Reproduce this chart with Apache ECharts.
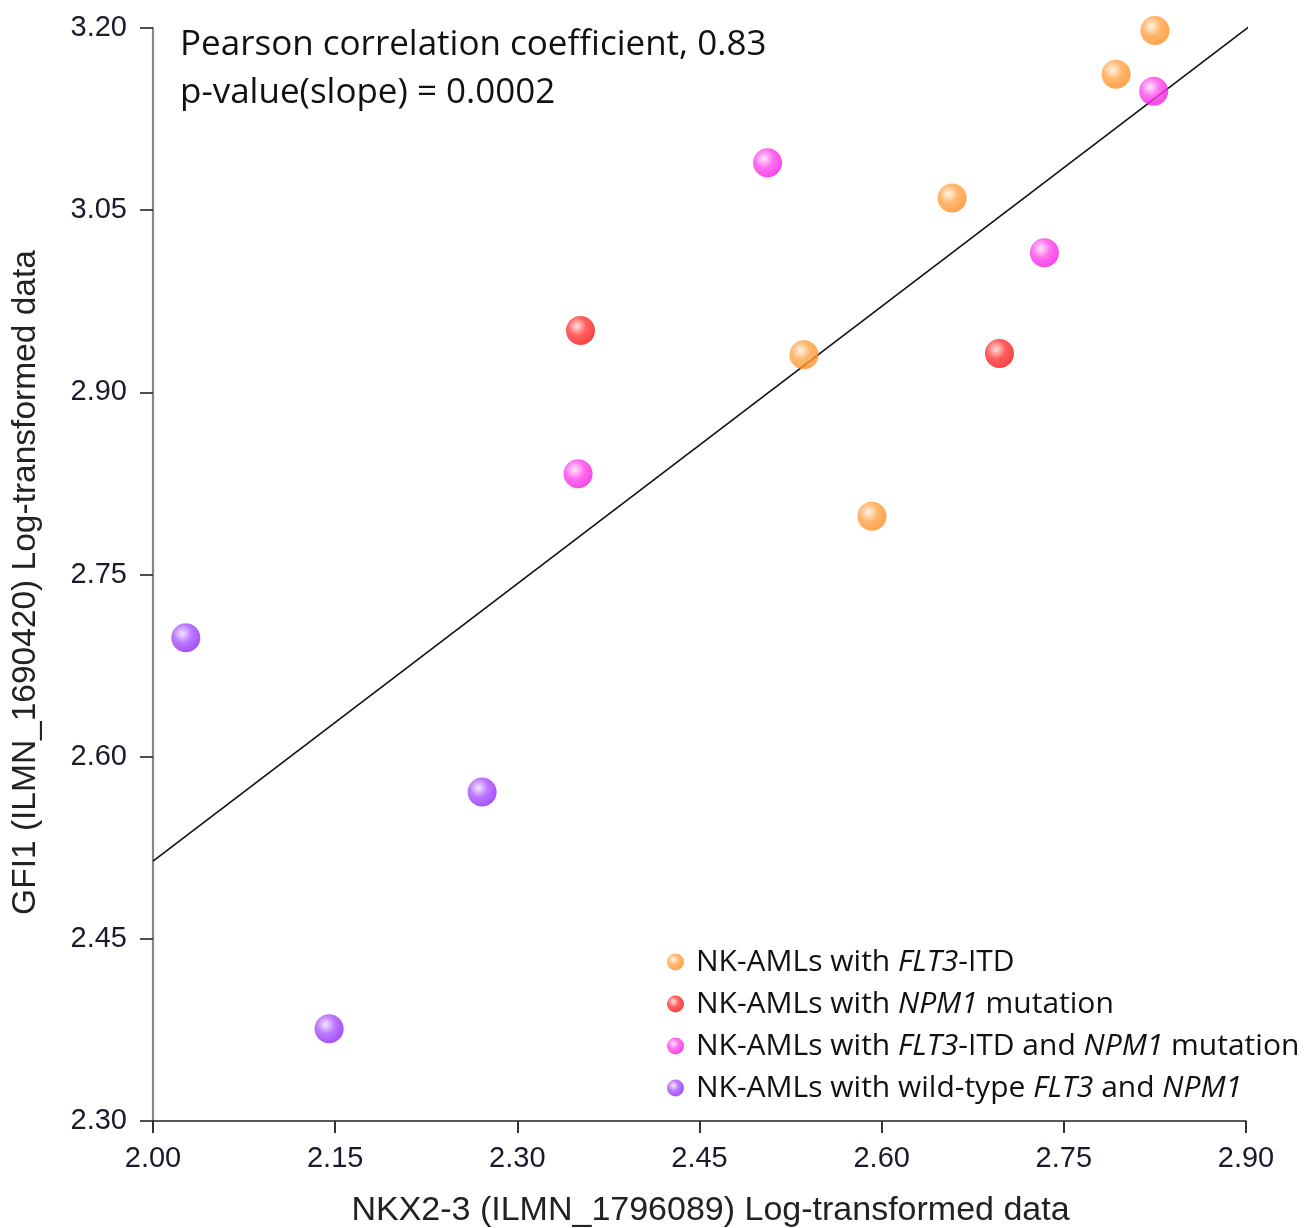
<!DOCTYPE html>
<html>
<head>
<meta charset="utf-8">
<script src="https://cdn.jsdelivr.net/npm/echarts@6/dist/echarts.min.js"></script>
<style>html,body{margin:0;padding:0;background:#fff}#c{width:1313px;height:1228px}</style>
</head>
<body>
<div id="c"></div>
<script>
// ---- data ----
const xTicks = [2.00, 2.15, 2.30, 2.45, 2.60, 2.75, 2.90];
const yTicks = [2.30, 2.45, 2.60, 2.75, 2.90, 3.05, 3.20];
const flt3 = [[2.825, 3.198], [2.793, 3.162], [2.658, 3.060], [2.536, 2.931], [2.592, 2.798]];
const npm1 = [[2.352, 2.951], [2.697, 2.932]];
const flt3npm1 = [[2.824, 3.148], [2.506, 3.089], [2.734, 3.015], [2.350, 2.833]];
const wildType = [[2.027, 2.698], [2.271, 2.571], [2.145, 2.376]];
const trendLine = [[2.00, 2.514], [2.909, 3.206]];
const seriesNames = [
  'NK-AMLs with FLT3-ITD',
  'NK-AMLs with NPM1 mutation',
  'NK-AMLs with FLT3-ITD and NPM1 mutation',
  'NK-AMLs with wild-type FLT3 and NPM1'
];
const legendRich = {
  'NK-AMLs with FLT3-ITD': '{n|NK-AMLs with }{i|FLT3}{n|-ITD}',
  'NK-AMLs with NPM1 mutation': '{n|NK-AMLs with }{i|NPM1}{n| mutation}',
  'NK-AMLs with FLT3-ITD and NPM1 mutation': '{n|NK-AMLs with }{i|FLT3}{n|-ITD and }{i|NPM1}{n| mutation}',
  'NK-AMLs with wild-type FLT3 and NPM1': '{n|NK-AMLs with wild-type }{i|FLT3}{n| and }{i|NPM1}'
};
const annotation = ['Pearson correlation coefficient, 0.83', 'p-value(slope) = 0.0002'];

function sphere(light, base, dark) {
  return {
    type: 'radial', x: 0.38, y: 0.36, r: 0.72,
    colorStops: [
      {offset: 0, color: light},
      {offset: 0.45, color: base},
      {offset: 1, color: dark}
    ]
  };
}
const colors = [
  sphere('#fff1e0', '#ffa448', '#ff8a1a'),
  sphere('#ffd6d6', '#ff3838', '#f01010'),
  sphere('#ffe0fb', '#ff4aec', '#f010e0'),
  sphere('#f1e0ff', '#ab55ff', '#8a20f0')
];
const datas = [flt3, npm1, flt3npm1, wildType];

const textFont = '"Open Sans", "Noto Sans", sans-serif';
const axisFont = '"Liberation Sans", Arial, sans-serif';

const chart = echarts.init(document.getElementById('c'), null, {renderer: 'canvas'});
const series = datas.map((d, i) => ({
  name: seriesNames[i],
  type: 'scatter',
  data: d,
  symbol: 'circle',
  symbolSize: 29,
  itemStyle: {color: colors[i]},
  z: 3
}));
series.push({
  name: 'trend',
  type: 'line',
  data: trendLine,
  showSymbol: false,
  symbol: 'none',
  clip: false,
  lineStyle: {color: '#111', width: 1.6},
  z: 2,
  silent: true
});

chart.setOption({
  animation: false,
  backgroundColor: '#fff',
  grid: {left: 153, right: 67, top: 28, bottom: 107, containLabel: false, outerBoundsMode: 'none'},
  xAxis: {
    type: 'value', min: 2.0, max: 2.9,
    name: 'NKX2-3 (ILMN_1796089) Log-transformed data',
    nameLocation: 'middle', nameGap: 73,
    nameTextStyle: {fontFamily: axisFont, fontSize: 34, color: '#222', padding: [0, 0, 0, 22]},
    axisLine: {show: true, lineStyle: {color: '#222', width: 1.6}},
    axisTick: {show: true, length: 12, customValues: xTicks, lineStyle: {color: '#333', width: 2}},
    axisLabel: {customValues: xTicks, margin: 23, fontFamily: axisFont, fontSize: 29, color: '#1a1a2a',
      formatter: v => v.toFixed(2)},
    splitLine: {show: false}
  },
  yAxis: {
    type: 'value', min: 2.3, max: 3.2,
    name: 'GFI1 (ILMN_1690420) Log-transformed data',
    nameLocation: 'middle', nameGap: 110,
    nameTextStyle: {fontFamily: axisFont, fontSize: 33.5, color: '#222', padding: [0, 16, 0, 0]},
    axisLine: {show: true, lineStyle: {color: '#888', width: 2.2}},
    axisTick: {show: true, length: 13, customValues: yTicks, lineStyle: {color: '#222', width: 1.6}},
    axisLabel: {customValues: yTicks, margin: 26, fontFamily: axisFont, fontSize: 29, color: '#1a1a2a',
      formatter: v => v.toFixed(2)},
    splitLine: {show: false}
  },
  legend: {
    data: seriesNames.map(n => ({name: n, icon: 'circle'})),
    orient: 'vertical',
    left: 662, top: 942,
    itemWidth: 17, itemHeight: 17,
    itemGap: 12,
    formatter: n => legendRich[n],
    textStyle: {
      fontFamily: textFont, fontSize: 30, color: '#111', lineHeight: 30, padding: [0, 0, 0, 7],
      rich: {
        n: {fontFamily: textFont, fontSize: 30, color: '#111'},
        i: {fontFamily: textFont, fontSize: 30, color: '#111', fontStyle: 'italic'}
      }
    },
    selectedMode: false
  },
  graphic: [
    {type: 'text', left: 180, top: 28, style: {text: annotation[0], font: '35px ' + textFont, fill: '#111'}},
    {type: 'text', left: 180, top: 76, style: {text: annotation[1], font: '35px ' + textFont, fill: '#111'}}
  ],
  series: series
});
</script>
</body>
</html>
